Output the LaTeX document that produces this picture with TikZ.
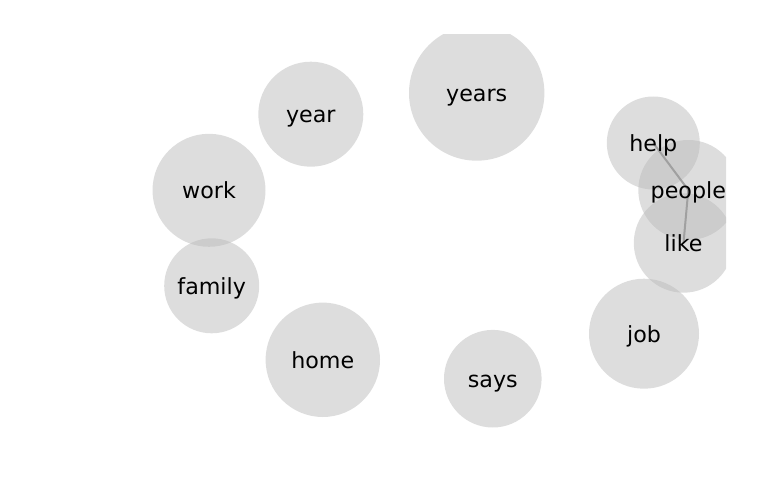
\documentclass[tikz,border=0pt]{standalone}
\usepackage{fontspec}
\setmainfont{DejaVu Sans}
\begin{document}
\begin{tikzpicture}[x=1pt,y=-1pt,
  bubble/.style={circle,draw=none,fill={rgb,255:red,187;green,187;blue,187},fill opacity=0.5,inner sep=0pt,minimum size=#1},
  word/.style={inner sep=0pt,anchor=center,text height=17pt,text depth=0pt,font=\fontsize{22.2}{26}\selectfont,text=black},
  link/.style={draw={rgb,255:red,160;green,160;blue,160},line width=2pt}]
\useasboundingbox (0,0) rectangle (769,500);
\begin{scope}
\clip (0,35) rectangle (726,500);
\node[bubble=135.4] (c-years) at (476.7,93) {};
\node[bubble=105] (c-year) at (310.8,114.2) {};
\node[bubble=113] (c-work) at (209,190.3) {};
\node[bubble=95] (c-family) at (211.7,285.8) {};
\node[bubble=114.4] (c-home) at (322.8,359.8) {};
\node[bubble=97.6] (c-says) at (492.8,378.7) {};
\node[bubble=110] (c-job) at (644,333.7) {};
\node[bubble=93] (c-help) at (653.3,143) {};
\node[bubble=100] (c-people) at (688.3,190) {};
\node[bubble=99.4] (c-like) at (683.5,243) {};
\draw[link] (c-help.center) -- (c-people.center) -- (c-like.center);
\end{scope}
\node[word] (years) at (c-years.center) {years};
\node[word] (year) at (c-year.center) {year};
\node[word] (work) at (c-work.center) {work};
\node[word] (family) at (c-family.center) {family};
\node[word] (home) at (c-home.center) {home};
\node[word] (says) at (c-says.center) {says};
\node[word] (job) at (c-job.center) {job};
\node[word] (help) at (c-help.center) {help};
\node[word] (people) at (c-people.center) {people};
\node[word] (like) at (c-like.center) {like};
\end{tikzpicture}
\end{document}
